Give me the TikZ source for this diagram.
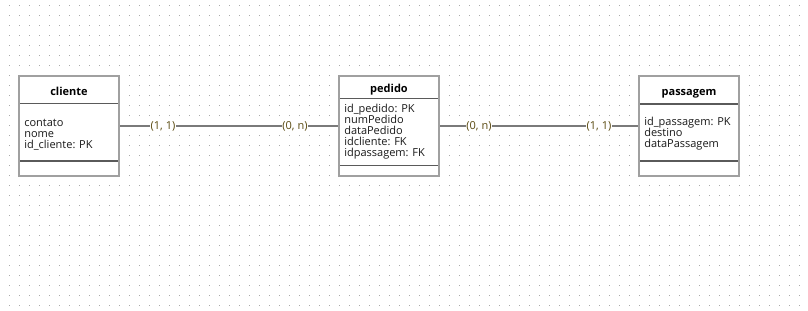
\documentclass[tikz,border=0pt]{standalone}
\usepackage{fontspec}
\setmainfont{Open Sans}
\usetikzlibrary{positioning}

\definecolor{gridgray}{HTML}{ABABAB}
\definecolor{boxgray}{HTML}{A0A0A0}
\definecolor{rulegray}{HTML}{5A5A5A}
\definecolor{linkgray}{HTML}{7A7A7A}
\definecolor{cardtext}{HTML}{5A4A10}

\tikzset{
	entity/.style={rectangle, draw=boxgray, line width=1.5pt, fill=white, minimum width=75pt, minimum height=75pt, inner sep=0pt, outer sep=0pt},
	divider/.style={draw=rulegray, line width=0.8pt},
	title/.style={inner sep=0pt, font=\fontsize{8.25pt}{8.25pt}\selectfont\bfseries},
	attrs/.style={inner sep=0pt, align=left, text=black!90, font=\fontsize{8.25pt}{8.25pt}\selectfont},
	link/.style={draw=linkgray, line width=1.5pt, shorten <=0.75pt, shorten >=0.75pt},
	card/.style={fill=white, inner sep=0.6pt, text=cardtext, font=\fontsize{8.25pt}{8.25pt}\selectfont}
}

\begin{document}
\begin{tikzpicture}[x=0.75pt, y=-0.75pt]
	\useasboundingbox (0,0) rectangle (808,311);

	% dotted background grid
	\foreach \i in {0,...,79}
		\foreach \j in {0,...,30}
			\fill [gridgray] (9+10*\i, 5+10*\j) rectangle ++(1,1);

	% entity boxes with title rule and bottom rule
	\foreach \n/\x/\h/\s in {cliente/69/27.5/85, pedido/389/22.5/89.5, passagem/689/28/85} {
		\node (\n) [entity] at (\x, 126) {};
		\draw [divider] (\n.north west) ++(1,\h) -- ++(98,0);
		\draw [divider] (\n.north west) ++(1,\s) -- ++(98,0);
	}

	\node (cliente-title) [title, anchor=base] at (69,95) {cliente};
	\node (pedido-title) [title, anchor=base] at (389,92) {pedido};
	\node (passagem-title) [title, anchor=base] at (689,95) {passagem};

	% base of a multi-line node sits on its last line
	\node (cliente-attrs) [attrs, anchor=base west] at (24,148) {contato\\nome\\id\_cliente: PK};
	\node (pedido-attrs) [attrs, anchor=base west] at (344,156) {id\_pedido: PK\\numPedido\\dataPedido\\idcliente: FK\\idpassagem: FK};
	\node (passagem-attrs) [attrs, anchor=base west] at (644,147) {id\_passagem: PK\\destino\\dataPassagem};

	% relationships
	\draw [link] (cliente) -- node [card, pos=0.2] (c1) {(1, 1)} node [card, pos=0.8] (c2) {(0, n)} (pedido);
	\draw [link] (pedido) -- node [card, pos=0.2] (c3) {(0, n)} node [card, pos=0.8] (c4) {(1, 1)} (passagem);

\end{tikzpicture}
\end{document}
